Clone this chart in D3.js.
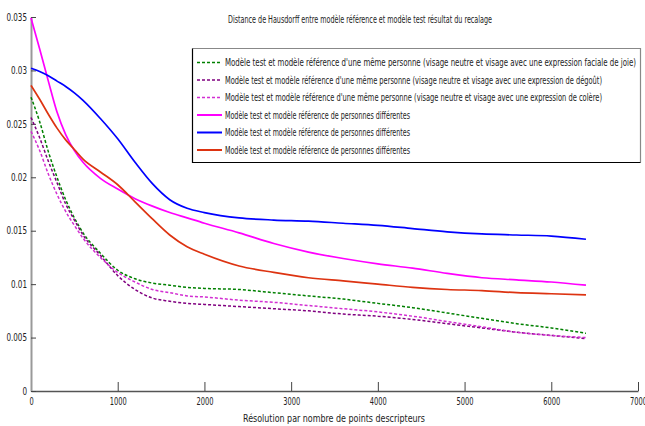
<!DOCTYPE html>
<html>
<head>
<meta charset="utf-8">
<script src="https://cdn.jsdelivr.net/npm/d3@7"></script>
<style>
  body { margin: 0; background: #fff; }
  text { font-family: "Liberation Sans Narrow", "Arial Narrow", "DejaVu Sans Condensed", sans-serif; fill: #222; }
</style>
</head>
<body>
<div id="chart"></div>
<script>
const resolution = [0, 100, 200, 300, 400, 500, 600, 800, 1000, 1200, 1400, 1600, 1800, 2000, 2400, 2800, 3200, 3600, 4000, 4400, 4800, 5200, 5600, 6000, 6400];

const joie =    [0.0275, 0.0252, 0.0224, 0.0200, 0.0179, 0.0162, 0.0148, 0.0129, 0.0113, 0.0105, 0.0101, 0.0099, 0.0097, 0.0096, 0.0095, 0.0092, 0.0089, 0.0086, 0.0082, 0.0078, 0.0073, 0.0068, 0.0063, 0.0059, 0.0054];
const degout =  [0.0256, 0.0237, 0.0215, 0.0195, 0.0175, 0.0160, 0.0146, 0.0127, 0.0108, 0.0095, 0.0087, 0.0084, 0.0082, 0.0081, 0.0079, 0.0077, 0.0075, 0.0072, 0.0070, 0.0067, 0.0063, 0.0059, 0.0055, 0.0052, 0.0049];
const colere =  [0.0243, 0.0225, 0.0203, 0.0184, 0.0168, 0.0155, 0.0143, 0.0125, 0.0111, 0.0102, 0.0095, 0.0092, 0.0089, 0.0088, 0.0085, 0.0083, 0.0080, 0.0077, 0.0074, 0.0070, 0.0065, 0.0060, 0.0055, 0.0052, 0.0050];
const diffMagenta = [0.0349, 0.0320, 0.0290, 0.0261, 0.0240, 0.0225, 0.0214, 0.0199, 0.0189, 0.0180, 0.0173, 0.0167, 0.0162, 0.0157, 0.0148, 0.0138, 0.0130, 0.0124, 0.0119, 0.0115, 0.0110, 0.0106, 0.0104, 0.0102, 0.0099];
const diffBlue =    [0.0302, 0.0299, 0.0295, 0.0290, 0.0285, 0.0279, 0.0272, 0.0255, 0.0236, 0.0214, 0.0194, 0.0179, 0.0171, 0.0167, 0.0162, 0.0160, 0.0159, 0.0157, 0.0155, 0.0152, 0.0149, 0.0147, 0.0146, 0.0145, 0.0142];
const diffRed =     [0.0286, 0.0273, 0.0259, 0.0246, 0.0235, 0.0226, 0.0217, 0.0205, 0.0193, 0.0177, 0.0161, 0.0146, 0.0135, 0.0128, 0.0117, 0.0111, 0.0106, 0.0103, 0.0100, 0.0097, 0.0095, 0.0094, 0.0092, 0.0091, 0.0090];

const labelSame = "Modèle test et modèle référence d'une même personne (visage neutre et visage avec une expression ";
const legendLabels = [
  labelSame + "faciale de joie)",
  labelSame + "de dégoût)",
  labelSame + "de colère)",
  "Modèle test et modèle référence de personnes différentes",
  "Modèle test et modèle référence de personnes différentes",
  "Modèle test et modèle référence de personnes différentes"
];
const xTicks = [0, 1000, 2000, 3000, 4000, 5000, 6000, 7000];
const yTicks = [0, 0.005, 0.01, 0.015, 0.02, 0.025, 0.03, 0.035];

const series = [
  { values: joie, color: '#008000', dash: '3,2' },
  { values: degout, color: '#800080', dash: '3,2' },
  { values: colere, color: '#d22ed2', dash: '3,2' },
  { values: diffMagenta, color: '#ff00ff', dash: null },
  { values: diffBlue, color: '#0000ff', dash: null },
  { values: diffRed, color: '#dd3311', dash: null }
];

const W = 645, H = 426;
const margin = { top: 17, right: 7, bottom: 35, left: 31 };

const svg = d3.select('#chart').append('svg')
  .attr('width', W)
  .attr('height', H)
  .style('display', 'block');

svg.append('rect').attr('width', W).attr('height', H).attr('fill', '#fff');

const x = d3.scaleLinear().domain([0, 7000]).range([margin.left, W - margin.right]);
const y = d3.scaleLinear().domain([0, 0.035]).range([H - margin.bottom, margin.top]);

// narrow labels: squeeze to the width the reference shows
const squeeze = (sel, digitW) => sel.each(function () {
  const s = this.textContent;
  const dots = (s.match(/\./g) || []).length;
  d3.select(this)
    .attr('textLength', (s.length - dots) * digitW + dots * 2.2)
    .attr('lengthAdjust', 'spacingAndGlyphs');
});

// axes, ticks inside like matlab
const xAxis = svg.append('g')
  .attr('transform', `translate(0,${H - margin.bottom})`)
  .call(d3.axisBottom(x).tickValues(xTicks).tickSizeInner(-9).tickSizeOuter(0).tickPadding(7).tickFormat(d3.format('d')));
xAxis.select('.domain').attr('stroke', '#555').attr('stroke-width', 1.5);
xAxis.selectAll('.tick line').attr('stroke', '#444');
xAxis.selectAll('.tick text').attr('font-size', 10).call(squeeze, 4.25);

const yAxis = svg.append('g')
  .attr('transform', `translate(${margin.left},0)`)
  .call(d3.axisLeft(y).tickValues(yTicks).tickSizeInner(-5).tickSizeOuter(0).tickPadding(4)
    .tickFormat(d => d === 0 ? '0' : String(+d.toFixed(3))));
yAxis.select('.domain').attr('stroke', '#999').attr('stroke-width', 2);
yAxis.selectAll('.tick line').attr('stroke', '#444');
yAxis.selectAll('.tick text').attr('font-size', 10).call(squeeze, 4.6);

// curves
const line = d3.line()
  .x((d, i) => x(resolution[i]))
  .y(d => y(d))
  .curve(d3.curveMonotoneX);

series.forEach(s => {
  svg.append('path')
    .datum(s.values)
    .attr('fill', 'none')
    .attr('stroke', s.color)
    .attr('stroke-width', s.dash ? 1.5 : 1.7)
    .attr('stroke-dasharray', s.dash)
    .attr('d', line);
});

// title and axis label
svg.append('text')
  .attr('x', 360).attr('y', 23)
  .attr('text-anchor', 'middle')
  .attr('font-size', 11)
  .attr('textLength', 264).attr('lengthAdjust', 'spacingAndGlyphs')
  .text('Distance de Hausdorff entre modèle référence et modèle test résultat du recalage');

svg.append('text')
  .attr('x', 334).attr('y', 422)
  .attr('text-anchor', 'middle')
  .attr('font-size', 11)
  .attr('textLength', 182).attr('lengthAdjust', 'spacingAndGlyphs')
  .text('Résolution par nombre de points descripteurs');

// legend, matlab-like box: dark left/bottom, grey top/right
const lx0 = 192.5, lx1 = 640.5, ly0 = 48.5, ly1 = 162.5;
const legend = svg.append('g');
legend.append('rect')
  .attr('x', lx0).attr('y', ly0)
  .attr('width', lx1 - lx0).attr('height', ly1 - ly0)
  .attr('fill', '#fff');
legend.append('path')
  .attr('d', `M${lx0},${ly0}H${lx1}V${ly1}`)
  .attr('fill', 'none').attr('stroke', '#888').attr('stroke-width', 1.2);
legend.append('path')
  .attr('d', `M${lx0},${ly0}V${ly1}H${lx1}`)
  .attr('fill', 'none').attr('stroke', '#000').attr('stroke-width', 1.2);

const rowY = i => 62.5 + i * 17.5;
series.forEach((s, i) => {
  legend.append('line')
    .attr('x1', 197).attr('x2', 222)
    .attr('y1', rowY(i)).attr('y2', rowY(i))
    .attr('stroke', s.color)
    .attr('stroke-width', s.dash ? 1.5 : 2)
    .attr('stroke-dasharray', s.dash);
  legend.append('text')
    .attr('x', 225).attr('y', rowY(i) + 3.5)
    .attr('font-size', 10)
    .attr('textLength', i === 0 ? 411 : i < 3 ? 377 : 185)
    .attr('lengthAdjust', 'spacingAndGlyphs')
    .text(legendLabels[i]);
});
</script>
</body>
</html>
